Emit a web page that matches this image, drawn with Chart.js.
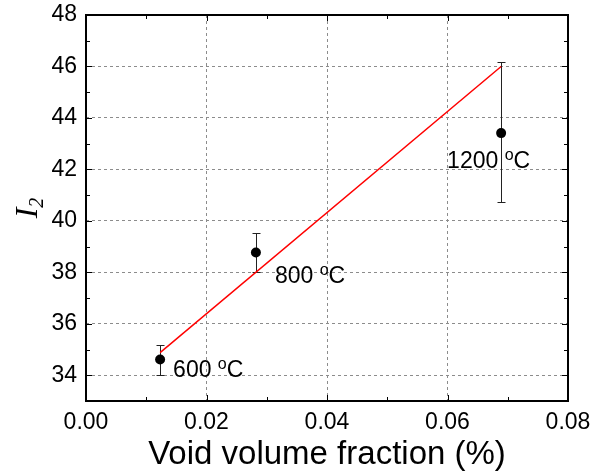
<!DOCTYPE html>
<html>
<head>
<meta charset="utf-8">
<script src="https://cdn.jsdelivr.net/npm/chart.js@4.4.1/dist/chart.umd.min.js"></script>
<style>
  html, body { margin: 0; padding: 0; background: #fff; }
  #wrap { width: 592px; height: 476px; }
</style>
</head>
<body>
<div id="wrap"><canvas id="chart"></canvas></div>
<script>
// data
const voidFraction = [0.0123, 0.0282, 0.0689];
const i2Values = [34.61, 38.77, 43.41];
const i2ErrUp = [0.57, 0.76, 2.76];
const i2ErrDown = [0.60, 0.77, 2.69];
const tempLabels = ['600', '800', '1200'];
const fitX = [0.0123, 0.0689];
const fitY = [34.88, 46.0];
const xTicks = [0, 0.02, 0.04, 0.06, 0.08];
const yTicks = [34, 36, 38, 40, 42, 44, 46, 48];

// label placement (pixel offsets from each point)
const labelOffsets = [[13, 17], [19, 30], [-54, 35]];

const FONT = 'Arial, "Liberation Sans", Helvetica, sans-serif';

const framePlugin = {
    id: 'frame',
    beforeDatasetsDraw(chart) {
        const { ctx, chartArea: a, scales: { x, y } } = chart;
        ctx.save();
        ctx.strokeStyle = '#000';
        ctx.lineWidth = 1;
        ctx.beginPath();
        for (let v = 0; v <= 0.08001; v += 0.01) {
            const px = Math.round(x.getPixelForValue(v)) + 0.5;
            const len = Math.round(v * 100) % 2 === 0 ? 6 : 4;
            ctx.moveTo(px, a.bottom); ctx.lineTo(px, a.bottom - len);
            ctx.moveTo(px, a.top); ctx.lineTo(px, a.top + len);
        }
        for (let v = 33; v <= 48; v += 1) {
            const py = Math.round(y.getPixelForValue(v)) + 0.5;
            const len = v % 2 === 0 ? 6 : 4;
            ctx.moveTo(a.left, py); ctx.lineTo(a.left + len, py);
            ctx.moveTo(a.right, py); ctx.lineTo(a.right - len, py);
        }
        ctx.stroke();
        ctx.lineWidth = 2;
        ctx.strokeRect(a.left, a.top, a.right - a.left, a.bottom - a.top);

        // error bars
        ctx.strokeStyle = '#222';
        ctx.lineWidth = 1;
        ctx.beginPath();
        voidFraction.forEach((vx, i) => {
            const px = Math.round(x.getPixelForValue(vx)) + 0.5;
            const top = Math.round(y.getPixelForValue(i2Values[i] + i2ErrUp[i])) + 0.5;
            const bot = Math.round(y.getPixelForValue(i2Values[i] - i2ErrDown[i])) + 0.5;
            ctx.moveTo(px, top); ctx.lineTo(px, bot);
            ctx.moveTo(px - 4, top); ctx.lineTo(px + 4, top);
            ctx.moveTo(px - 4, bot); ctx.lineTo(px + 4, bot);
        });
        ctx.stroke();
        ctx.restore();
    },
    afterDraw(chart) {
        const { ctx, chartArea: a, scales: { x, y } } = chart;
        ctx.save();
        ctx.fillStyle = '#000';
        ctx.textBaseline = 'alphabetic';

        // temperature labels with superscript o
        voidFraction.forEach((vx, i) => {
            let px = x.getPixelForValue(vx) + labelOffsets[i][0];
            const py = y.getPixelForValue(i2Values[i]) + labelOffsets[i][1];
            ctx.font = '23px ' + FONT;
            const t = tempLabels[i] + ' ';
            ctx.fillText(t, px, py);
            px += ctx.measureText(t).width;
            ctx.font = '16px ' + FONT;
            ctx.fillText('o', px, py - 8);
            px += ctx.measureText('o').width;
            ctx.font = '23px ' + FONT;
            ctx.fillText('C', px, py);
        });

        // x axis title
        ctx.font = '33px ' + FONT;
        ctx.textAlign = 'center';
        ctx.fillText('Void volume fraction (%)', (a.left + a.right) / 2, 464);

        // y axis title: italic I with subscript 2
        ctx.translate(37, 208);
        ctx.rotate(-Math.PI / 2);
        ctx.textAlign = 'left';
        ctx.font = 'italic 32px "Liberation Serif", "Times New Roman", serif';
        const w = ctx.measureText('I').width;
        ctx.font = 'italic 20px "Liberation Serif", "Times New Roman", serif';
        const w2 = ctx.measureText('2').width;
        const start = -(w + w2) / 2;
        ctx.font = 'italic 32px "Liberation Serif", "Times New Roman", serif';
        ctx.fillText('I', start, 0);
        ctx.font = 'italic 20px "Liberation Serif", "Times New Roman", serif';
        ctx.fillText('2', start + w, 6);
        ctx.restore();
    }
};

new Chart(document.getElementById('chart'), {
    type: 'scatter',
    data: {
        datasets: [
            {
                type: 'line',
                data: fitX.map((v, i) => ({ x: v, y: fitY[i] })),
                borderColor: '#ff0000',
                borderWidth: 1.5,
                pointRadius: 0,
                fill: false,
                order: 2,
            },
            {
                data: voidFraction.map((v, i) => ({ x: v, y: i2Values[i] })),
                backgroundColor: '#000',
                borderColor: '#000',
                pointRadius: 5,
                pointBorderWidth: 0,
                order: 1,
            },
        ],
    },
    options: {
        responsive: true,
        maintainAspectRatio: false,
        animation: false,
        layout: { padding: { top: 15, right: 24, left: 0, bottom: 0 } },
        plugins: { legend: { display: false }, tooltip: { enabled: false } },
        scales: {
            x: {
                type: 'linear',
                min: 0,
                max: 0.08,
                afterBuildTicks: (s) => { s.ticks = xTicks.map((v) => ({ value: v })); },
                afterFit: (s) => {
                    s.height = 75;
                    s.paddingLeft = 0;
                    s.paddingRight = 0;
                },
                ticks: {
                    color: '#000',
                    font: { family: FONT, size: 23 },
                    padding: 8,
                    maxRotation: 0,
                    callback: (v) => v.toFixed(2),
                },
                grid: { color: '#8c8c8c', lineWidth: 1, drawTicks: false },
                border: { display: false, dash: [3, 3] },
            },
            y: {
                min: 33,
                max: 48,
                afterBuildTicks: (s) => { s.ticks = yTicks.map((v) => ({ value: v })); },
                afterFit: (s) => {
                    s.width = 86;
                    s.paddingTop = 0;
                    s.paddingBottom = 0;
                },
                ticks: {
                    color: '#000',
                    font: { family: FONT, size: 23 },
                    padding: 9,
                },
                grid: { color: '#8c8c8c', lineWidth: 1, drawTicks: false },
                border: { display: false, dash: [3, 3] },
            },
        },
    },
    plugins: [framePlugin],
});
</script>
</body>
</html>
